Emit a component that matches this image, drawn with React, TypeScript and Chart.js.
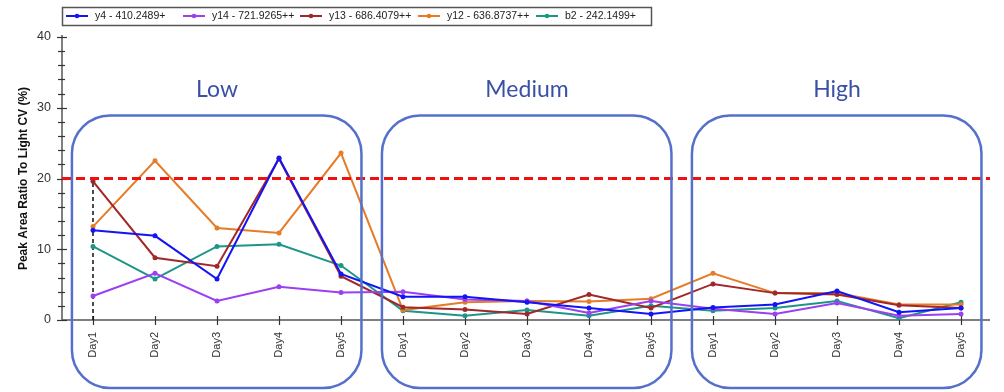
import React, { useEffect, useRef } from "react";
import { Chart, registerables } from "chart.js";

Chart.register(...registerables);

const categories = [
  "Day1", "Day2", "Day3", "Day4", "Day5",
  "Day1", "Day2", "Day3", "Day4", "Day5",
  "Day1", "Day2", "Day3", "Day4", "Day5",
];

const y4 = [12.7, 11.9, 5.8, 22.9, 6.5, 3.3, 3.3, 2.5, 1.7, 0.85, 1.75, 2.2, 4.1, 1.1, 1.7];
const y14 = [3.4, 6.6, 2.7, 4.7, 3.9, 4.0, 2.9, 2.7, 1.0, 2.7, 1.6, 0.85, 2.4, 0.6, 0.85];
const y13 = [19.6, 8.8, 7.6, 22.8, 6.2, 1.8, 1.5, 0.85, 3.6, 1.7, 5.1, 3.8, 3.6, 2.1, 1.7];
const y12 = [13.2, 22.5, 13.0, 12.3, 23.6, 1.4, 2.5, 2.7, 2.6, 3.0, 6.6, 3.8, 3.8, 2.2, 2.2];
const b2 = [10.4, 5.8, 10.4, 10.7, 7.7, 1.3, 0.6, 1.4, 0.6, 2.0, 1.3, 1.7, 2.7, 0.25, 2.5];

const seriesNames = ["y4 - 410.2489+", "y14 - 721.9265++", "y13 - 686.4079++", "y12 - 636.8737++", "b2 - 242.1499+"];
const seriesColors = ["#1414f5", "#9b3ff0", "#a0282a", "#e57c28", "#1d9688"];
const seriesData = [y4, y14, y13, y12, b2];

const groupLabels = ["Low", "Medium", "High"];
const groupStarts = [0, 5, 10];
const groupSize = 5;
const thresholdValue = 20;
const yTicksMajor = [0, 10, 20, 30, 40];
const boxTopValue = 28.9;
const groupLabelValue = 32.6;

const legendItemX = [66, 183, 300, 418, 536];
const legendRight = 651;

const decor = {
  id: "decor",
  beforeDatasetsDraw(chart: any) {
    const { ctx, scales, chartArea } = chart;
    const x = scales.x, y = scales.y;
    ctx.save();
    ctx.strokeStyle = "#555";
    ctx.lineWidth = 1.5;
    ctx.beginPath();
    ctx.moveTo(chartArea.left, chartArea.top - 2);
    ctx.lineTo(chartArea.left, chartArea.bottom);
    ctx.lineTo(chartArea.right - 2, chartArea.bottom);
    ctx.stroke();
    ctx.lineWidth = 1.2;
    ctx.strokeStyle = "#333";
    for (let v = 0; v <= 40; v += 2) {
      const py = Math.round(y.getPixelForValue(v)) + 0.5;
      const major = yTicksMajor.includes(v);
      ctx.beginPath();
      ctx.moveTo(chartArea.left - (major ? 5 : 4), py);
      ctx.lineTo(chartArea.left + (major ? 5 : 3), py);
      ctx.stroke();
    }
    for (let i = 0; i < categories.length; i++) {
      const px = Math.round(x.getPixelForValue(i)) + 0.5;
      ctx.beginPath();
      ctx.moveTo(px, chartArea.bottom - 4);
      ctx.lineTo(px, chartArea.bottom + 5);
      ctx.stroke();
    }
    const x0 = x.getPixelForValue(0);
    ctx.setLineDash([4, 3]);
    ctx.strokeStyle = "#111";
    ctx.lineWidth = 1.5;
    ctx.beginPath();
    ctx.moveTo(x0, y.getPixelForValue(0));
    ctx.lineTo(x0, y.getPixelForValue(y13[0]));
    ctx.stroke();
    ctx.restore();
  },
  afterDatasetsDraw(chart: any) {
    const { ctx, scales, chartArea } = chart;
    const x = scales.x, y = scales.y;
    ctx.save();
    const ty = y.getPixelForValue(thresholdValue);
    ctx.setLineDash([9, 5]);
    ctx.strokeStyle = "#f01010";
    ctx.lineWidth = 2.8;
    ctx.beginPath();
    ctx.moveTo(chartArea.left, ty);
    ctx.lineTo(chartArea.right - 2, ty);
    ctx.stroke();
    ctx.setLineDash([]);
    const step = x.getPixelForValue(1) - x.getPixelForValue(0);
    groupStarts.forEach((s, gi) => {
      const left = x.getPixelForValue(s) - 0.34 * step;
      const right = x.getPixelForValue(s + groupSize - 1) + 0.33 * step;
      const top = y.getPixelForValue(boxTopValue);
      const bottom = chartArea.bottom + 68;
      const r = 38;
      ctx.strokeStyle = "#5570cc";
      ctx.lineWidth = 2.5;
      ctx.beginPath();
      ctx.moveTo(left + r, top);
      ctx.lineTo(right - r, top);
      ctx.arcTo(right, top, right, top + r, r);
      ctx.lineTo(right, bottom - r);
      ctx.arcTo(right, bottom, right - r, bottom, r);
      ctx.lineTo(left + r, bottom);
      ctx.arcTo(left, bottom, left, bottom - r, r);
      ctx.lineTo(left, top + r);
      ctx.arcTo(left, top, left + r, top, r);
      ctx.closePath();
      ctx.stroke();
      ctx.fillStyle = "#3a50a5";
      ctx.font = '23px Lato, "Noto Sans", sans-serif';
      ctx.textAlign = "center";
      ctx.textBaseline = "middle";
      ctx.fillText(groupLabels[gi], x.getPixelForValue(s + 2), y.getPixelForValue(groupLabelValue));
    });
    ctx.restore();
  },
  afterDraw(chart: any) {
    const { ctx } = chart;
    ctx.save();
    const lx = 62, ly = 7, lh = 18;
    ctx.font = '10.5px "Liberation Sans", Arial, sans-serif';
    ctx.textBaseline = "middle";
    ctx.textAlign = "left";
    const cy = ly + lh / 2;
    seriesNames.forEach((name, i) => {
      const cx = legendItemX[i];
      ctx.strokeStyle = seriesColors[i];
      ctx.lineWidth = 2;
      ctx.beginPath();
      ctx.moveTo(cx, cy);
      ctx.lineTo(cx + 22, cy);
      ctx.stroke();
      ctx.fillStyle = seriesColors[i];
      ctx.beginPath();
      ctx.arc(cx + 11, cy, 2.3, 0, Math.PI * 2);
      ctx.fill();
      ctx.fillStyle = "#222";
      ctx.fillText(name, cx + 29, cy + 0.5);
    });
    ctx.strokeStyle = "#555";
    ctx.lineWidth = 1.5;
    ctx.strokeRect(lx + 0.5, ly + 0.5, legendRight - lx, lh);
    ctx.restore();
  },
};

export default function App() {
  const ref = useRef<HTMLCanvasElement>(null);
  useEffect(() => {
    if (!ref.current) return;
    const chart = new Chart(ref.current, {
      type: "line",
      data: {
        labels: categories,
        datasets: seriesData.map((d, i) => ({
          label: seriesNames[i],
          data: d,
          borderColor: seriesColors[i],
          backgroundColor: seriesColors[i],
          borderWidth: 2,
          pointRadius: 2.5,
          pointBorderWidth: 0,
          tension: 0,
          fill: false,
        })),
      },
      plugins: [decor],
      options: {
        responsive: false,
        animation: false,
        layout: { padding: { top: 37, right: 12, left: 0, bottom: 0 } },
        plugins: { legend: { display: false }, tooltip: { enabled: false } },
        scales: {
          x: {
            type: "category",
            offset: true,
            grid: { display: false, drawTicks: false },
            border: { display: false },
            ticks: {
              autoSkip: false,
              minRotation: 90,
              maxRotation: 90,
              padding: 12,
              color: "#333",
              font: { family: '"Liberation Sans", Arial, sans-serif', size: 11 },
            },
            afterFit: (s: any) => { s.height = 72; },
          },
          y: {
            min: 0,
            max: 40,
            grid: { display: false, drawTicks: false },
            border: { display: false },
            ticks: {
              stepSize: 10,
              padding: 11,
              color: "#333",
              font: { family: '"Liberation Sans", Arial, sans-serif', size: 12.5 },
            },
            title: {
              display: true,
              text: "Peak Area Ratio To Light CV (%)",
              color: "#111",
              font: { family: '"Liberation Sans", Arial, sans-serif', size: 12, weight: "bold" },
              padding: { top: 16, bottom: 0 },
            },
            afterFit: (s: any) => { s.width = 62; },
          },
        },
      },
    });
    return () => chart.destroy();
  }, []);
  return (
    <div style={{ position: "fixed", left: 0, top: 0, width: 1004, height: 392, background: "#fff" }}>
      <canvas ref={ref} width={1004} height={392} style={{ display: "block" }} />
    </div>
  );
}
